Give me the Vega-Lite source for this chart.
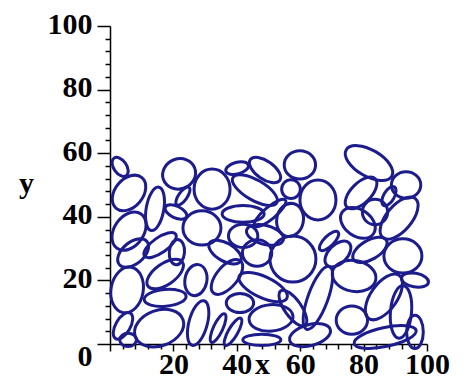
{
  "$schema": "https://vega.github.io/schema/vega-lite/v6.json",
  "width": 317,
  "height": 318,
  "autosize": {"type": "none"},
  "padding": {"left": 110, "top": 26, "right": 39, "bottom": 35},
  "background": "white",
  "config": {
    "view": {"stroke": null},
    "axis": {
      "labelFont": "Liberation Serif", "labelFontWeight": "bold", "labelFontSize": 30, "labelColor": "black",
      "titleFont": "Liberation Serif", "titleFontWeight": "bold", "titleFontSize": 30, "titleColor": "black",
      "domainColor": "black", "tickColor": "black", "grid": false, "domainWidth": 1.5, "tickWidth": 1.5,
      "labelOverlap": false, "labelFlush": false
    }
  },
  "data": {"values": [
    {"x": 3.2, "y": 55.7, "a": 3.2, "ratio": "r6", "ang": 125},
    {"x": 6.0, "y": 47.5, "a": 6.0, "ratio": "r7", "ang": 50},
    {"x": 6.0, "y": 35.5, "a": 6.3, "ratio": "r7", "ang": 55},
    {"x": 14.2, "y": 42.5, "a": 6.6, "ratio": "r4", "ang": 80},
    {"x": 21.8, "y": 53.5, "a": 5.0, "ratio": "r9", "ang": 20},
    {"x": 23.0, "y": 46.5, "a": 3.2, "ratio": "r4", "ang": 55},
    {"x": 20.8, "y": 41.5, "a": 3.5, "ratio": "r5", "ang": 155},
    {"x": 32.2, "y": 48.7, "a": 6.0, "ratio": "r9", "ang": 90},
    {"x": 29.0, "y": 36.5, "a": 5.7, "ratio": "r9", "ang": 0},
    {"x": 15.8, "y": 31.1, "a": 5.7, "ratio": "r4", "ang": 35},
    {"x": 21.1, "y": 28.9, "a": 3.8, "ratio": "r6", "ang": 85},
    {"x": 7.3, "y": 28.6, "a": 5.4, "ratio": "r6", "ang": 40},
    {"x": 5.4, "y": 17.0, "a": 6.9, "ratio": "r7", "ang": 80},
    {"x": 17.4, "y": 22.0, "a": 6.3, "ratio": "r5", "ang": 35},
    {"x": 17.4, "y": 14.5, "a": 6.3, "ratio": "r4", "ang": 5},
    {"x": 27.1, "y": 20.1, "a": 4.7, "ratio": "r7", "ang": 80},
    {"x": 15.5, "y": 5.0, "a": 7.6, "ratio": "r7", "ang": 20},
    {"x": 4.1, "y": 5.7, "a": 4.4, "ratio": "r5", "ang": 60},
    {"x": 5.7, "y": 1.3, "a": 2.5, "ratio": "r8", "ang": 0},
    {"x": 27.8, "y": 6.6, "a": 6.9, "ratio": "r4", "ang": 75},
    {"x": 57.7, "y": 26.7, "a": 6.9, "ratio": "r10", "ang": 0},
    {"x": 46.4, "y": 28.6, "a": 4.4, "ratio": "r9", "ang": 0},
    {"x": 36.3, "y": 28.9, "a": 5.4, "ratio": "r5", "ang": 150},
    {"x": 36.9, "y": 21.1, "a": 6.3, "ratio": "r5", "ang": 50},
    {"x": 48.3, "y": 17.9, "a": 7.9, "ratio": "r4", "ang": 155},
    {"x": 41.0, "y": 12.9, "a": 4.1, "ratio": "r7", "ang": 0},
    {"x": 50.8, "y": 8.2, "a": 6.6, "ratio": "r6", "ang": 5},
    {"x": 57.7, "y": 11.3, "a": 6.3, "ratio": "r4", "ang": 125},
    {"x": 63.1, "y": 2.8, "a": 6.3, "ratio": "r5", "ang": 15},
    {"x": 34.1, "y": 5.0, "a": 4.7, "ratio": "r3", "ang": 65},
    {"x": 38.8, "y": 3.8, "a": 4.7, "ratio": "r3", "ang": 60},
    {"x": 47.9, "y": 1.3, "a": 5.7, "ratio": "r3", "ang": 0},
    {"x": 45.7, "y": 48.4, "a": 7.6, "ratio": "r4", "ang": 150},
    {"x": 48.9, "y": 54.7, "a": 5.4, "ratio": "r5", "ang": 145},
    {"x": 40.1, "y": 55.3, "a": 3.5, "ratio": "r5", "ang": 15},
    {"x": 59.9, "y": 56.3, "a": 4.7, "ratio": "r9", "ang": 0},
    {"x": 57.1, "y": 48.7, "a": 2.8, "ratio": "r10", "ang": 0},
    {"x": 65.6, "y": 45.3, "a": 6.0, "ratio": "r9", "ang": 90},
    {"x": 42.0, "y": 40.9, "a": 6.3, "ratio": "r4", "ang": 0},
    {"x": 50.5, "y": 41.2, "a": 6.0, "ratio": "r3", "ang": 40},
    {"x": 56.8, "y": 39.0, "a": 5.0, "ratio": "r8", "ang": 80},
    {"x": 42.0, "y": 34.0, "a": 4.4, "ratio": "r8", "ang": 0},
    {"x": 48.9, "y": 34.3, "a": 5.7, "ratio": "r5", "ang": 165},
    {"x": 81.7, "y": 56.9, "a": 7.9, "ratio": "r5", "ang": 150},
    {"x": 93.4, "y": 50.0, "a": 4.4, "ratio": "r9", "ang": 0},
    {"x": 79.2, "y": 47.5, "a": 6.0, "ratio": "r5", "ang": 45},
    {"x": 88.0, "y": 46.5, "a": 3.2, "ratio": "r5", "ang": 60},
    {"x": 83.6, "y": 41.5, "a": 3.8, "ratio": "r10", "ang": 0},
    {"x": 91.2, "y": 39.6, "a": 7.6, "ratio": "r5", "ang": 50},
    {"x": 78.2, "y": 38.1, "a": 5.7, "ratio": "r7", "ang": 145},
    {"x": 92.4, "y": 27.7, "a": 5.7, "ratio": "r9", "ang": 0},
    {"x": 96.2, "y": 20.1, "a": 4.1, "ratio": "r5", "ang": 170},
    {"x": 86.4, "y": 14.8, "a": 7.9, "ratio": "r5", "ang": 55},
    {"x": 77.0, "y": 21.4, "a": 6.6, "ratio": "r7", "ang": 170},
    {"x": 91.8, "y": 10.1, "a": 7.9, "ratio": "r4", "ang": 85},
    {"x": 76.3, "y": 7.5, "a": 4.7, "ratio": "r9", "ang": 0},
    {"x": 96.2, "y": 3.8, "a": 5.0, "ratio": "r5", "ang": 90},
    {"x": 65.6, "y": 14.5, "a": 10.0, "ratio": "r3", "ang": 70},
    {"x": 86.8, "y": 2.2, "a": 9.5, "ratio": "r3", "ang": 12},
    {"x": 69.1, "y": 32.4, "a": 3.8, "ratio": "r4", "ang": 45},
    {"x": 71.9, "y": 28.3, "a": 4.7, "ratio": "r6", "ang": 45},
    {"x": 82.0, "y": 29.6, "a": 5.7, "ratio": "r5", "ang": 30}
  ]},
  "mark": {"type": "point", "filled": false, "opacity": 1, "stroke": "#1c1c8c", "strokeWidth": 3},
  "encoding": {
    "x": {
      "field": "x", "type": "quantitative",
      "scale": {"domain": [0, 100], "nice": false, "zero": false},
      "axis": {
        "orient": "bottom",
        "values": [0,4,8,12,16,20,24,28,32,36,40,44,48,52,56,60,64,68,72,76,80,84,88,92,96,100],
        "labelExpr": "datum.value % 20 === 0 && datum.value > 0 ? datum.label : ''",
        "tickSize": {"condition": {"test": "datum.value % 20 === 0", "value": 7}, "value": 5},
        "labelBaseline": "alphabetic",
        "labelPadding": 22,
        "title": "x", "titleX": 152, "titleY": 29, "titleBaseline": "alphabetic", "titleAlign": "center"
      }
    },
    "y": {
      "field": "y", "type": "quantitative",
      "scale": {"domain": [0, 100], "nice": false, "zero": false},
      "axis": {
        "orient": "left",
        "values": [0,4,8,12,16,20,24,28,32,36,40,44,48,52,56,60,64,68,72,76,80,84,88,92,96,100],
        "labelExpr": "datum.value % 20 === 0 ? datum.label : ''",
        "tickSize": {"condition": {"test": "datum.value % 20 === 0", "value": 13}, "value": 5},
        "labelPadding": 5,
        "labelBaseline": "middle",
        "labelOffset": {"condition": {"test": "datum.value === 0", "value": 12}, "value": -2},
        "title": "y", "titleAngle": 0, "titleX": -84, "titleY": 166, "titleBaseline": "alphabetic", "titleAlign": "center"
      }
    },
    "size": {"field": "a", "type": "quantitative", "scale": {"type": "pow", "exponent": 2, "domain": [0, 10], "range": [0, 4450]}, "legend": null},
    "shape": {
      "field": "ratio", "type": "nominal", "legend": null,
      "scale": {
        "domain": ["r10", "r9", "r8", "r7", "r6", "r5", "r4", "r3"],
        "range": [
          "M-1,0A1,1,0,1,1,1,0A1,1,0,1,1,-1,0Z",
          "M-1,0A1,0.9,0,1,1,1,0A1,0.9,0,1,1,-1,0Z",
          "M-1,0A1,0.8,0,1,1,1,0A1,0.8,0,1,1,-1,0Z",
          "M-1,0A1,0.7,0,1,1,1,0A1,0.7,0,1,1,-1,0Z",
          "M-1,0A1,0.6,0,1,1,1,0A1,0.6,0,1,1,-1,0Z",
          "M-1,0A1,0.5,0,1,1,1,0A1,0.5,0,1,1,-1,0Z",
          "M-1,0A1,0.4,0,1,1,1,0A1,0.4,0,1,1,-1,0Z",
          "M-1,0A1,0.3,0,1,1,1,0A1,0.3,0,1,1,-1,0Z"
        ]
      }
    },
    "angle": {"field": "ang", "type": "quantitative", "scale": {"domain": [0, 180], "range": [360, 180]}}
  }
}
